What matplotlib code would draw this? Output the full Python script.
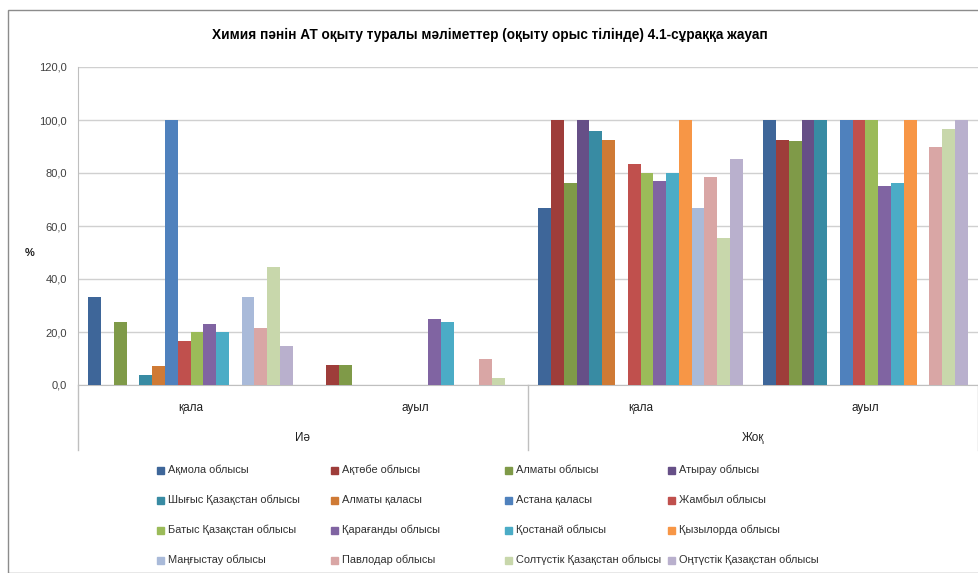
import numpy as np
import matplotlib
matplotlib.use('Agg')
import matplotlib.pyplot as plt
from matplotlib.patches import Rectangle

plt.rcParams['font.family'] = ['Liberation Sans', 'DejaVu Sans']

# categories (inner / outer)
inner_labels = ['қала', 'ауыл', 'қала', 'ауыл']
outer_labels = ['Иә', 'Жоқ']

regions = ['Ақмола облысы', 'Ақтөбе облысы', 'Алматы облысы', 'Атырау облысы',
           'Шығыс Қазақстан облысы', 'Алматы қаласы', 'Астана қаласы', 'Жамбыл облысы',
           'Батыс Қазақстан облысы', 'Қарағанды облысы', 'Қостанай облысы', 'Қызылорда облысы',
           'Маңғыстау облысы', 'Павлодар облысы', 'Солтүстік Қазақстан облысы', 'Оңтүстік Қазақстан облысы']

# values per region: [Иә қала, Иә ауыл, Жоқ қала, Жоқ ауыл]
akmola      = [33.3, 0.0, 66.7, 100.0]
aktobe      = [0.0, 7.7, 100.0, 92.3]
almaty_obl  = [23.8, 7.7, 76.2, 92.0]
atyrau      = [0.0, 0.0, 100.0, 100.0]
shygys      = [3.7, 0.0, 96.0, 100.0]
almaty_city = [7.1, 0.0, 92.5, 0.0]
astana      = [100.0, 0.0, 0.0, 100.0]
zhambyl     = [16.7, 0.0, 83.3, 100.0]
batys       = [20.0, 0.0, 80.0, 100.0]
karagandy   = [23.1, 25.0, 76.9, 75.0]
kostanai    = [20.0, 23.8, 80.0, 76.2]
kyzylorda   = [0.0, 0.0, 100.0, 100.0]
mangystau   = [33.3, 0.0, 66.7, 0.0]
pavlodar    = [21.4, 10.0, 78.6, 90.0]
soltustik   = [44.4, 2.8, 55.6, 96.7]
ontustik    = [14.9, 0.0, 85.1, 100.0]

series = [akmola, aktobe, almaty_obl, atyrau, shygys, almaty_city, astana, zhambyl,
          batys, karagandy, kostanai, kyzylorda, mangystau, pavlodar, soltustik, ontustik]

colors = ['#3E6699', '#9E3D3A', '#7F9A48', '#664F87', '#388BA3', '#CF7A35',
          '#4F81BD', '#C0504D', '#9BBB59', '#8064A2', '#4BACC6', '#F79646',
          '#A9BAD9', '#D9A6A5', '#C8D7AB', '#B9B0CD']

fig = plt.figure(figsize=(9.79, 5.73), dpi=100)
W, H = 979, 573

# outer chart border
fig.patches.append(Rectangle((8 / W, 0), 1.0, 1 - 10 / H, transform=fig.transFigure,
                             fill=False, edgecolor='#8c8c8c', linewidth=1.0))

ax = fig.add_axes([78 / W, 188 / H, 900 / W, 318 / H])

x = np.arange(len(inner_labels))
n = len(series)
w = 0.91 / n
for i, vals in enumerate(series):
    ax.bar(x + (i - (n - 1) / 2) * w, vals, width=w, color=colors[i],
           label=regions[i], zorder=3)

ax.set_xlim(-0.5, 3.5)
ax.set_ylim(0, 120)
ax.set_yticks(np.arange(0, 121, 20))
ax.set_yticklabels([f'{v:.1f}'.replace('.', ',') for v in np.arange(0, 121, 20)],
                   fontsize=8, color='#404040')
ax.yaxis.grid(True, color='#d0d0d0', linewidth=1.0, zorder=0)
ax.tick_params(axis='y', length=0, pad=8)
ax.tick_params(axis='x', length=0, pad=12)
ax.set_xticks(x)
ax.set_xticklabels(inner_labels, fontsize=8.5, color='#202020')

for s in ['top', 'right']:
    ax.spines[s].set_visible(False)
ax.spines['left'].set_color('#bfbfbf')
ax.spines['bottom'].set_color('#bfbfbf')

# multi-level axis separators and outer labels
drop = (450 - 385) / 318
for xs in [0.0, 0.5, 1.0]:
    ax.plot([xs, xs], [0, -drop], transform=ax.transAxes, color='#bfbfbf',
            linewidth=1.0, clip_on=False)
for j, lab in enumerate(outer_labels):
    ax.text(0.25 + 0.5 * j, -(438 - 385) / 318, lab, transform=ax.transAxes,
            ha='center', va='center', fontsize=8.5, color='#202020')

fig.text(30 / W, 1 - 253 / H, '%', ha='center', va='center', fontsize=8,
         fontweight='bold', color='#202020')

fig.text(490 / W, 1 - 35 / H, 'Химия пәнін АТ оқыту туралы мәліметтер (оқыту орыс тілінде) 4.1-сұраққа жауап',
         ha='center', va='center', fontsize=9.8, fontweight='bold', color='#000000')

# legend, laid out row by row like the original
col_x = [157, 331, 505, 668]
row_y = [470, 500, 530, 560]
for k, lab in enumerate(regions):
    cx = col_x[k % 4]
    cy = row_y[k // 4]
    fig.patches.append(Rectangle((cx / W, 1 - (cy + 3.5) / H), 7 / W, 7 / H,
                                 transform=fig.transFigure, color=colors[k]))
    fig.text((cx + 11) / W, 1 - cy / H, lab, ha='left', va='center',
             fontsize=7.9, color='#303030')

fig.savefig('out.png', dpi=100)
